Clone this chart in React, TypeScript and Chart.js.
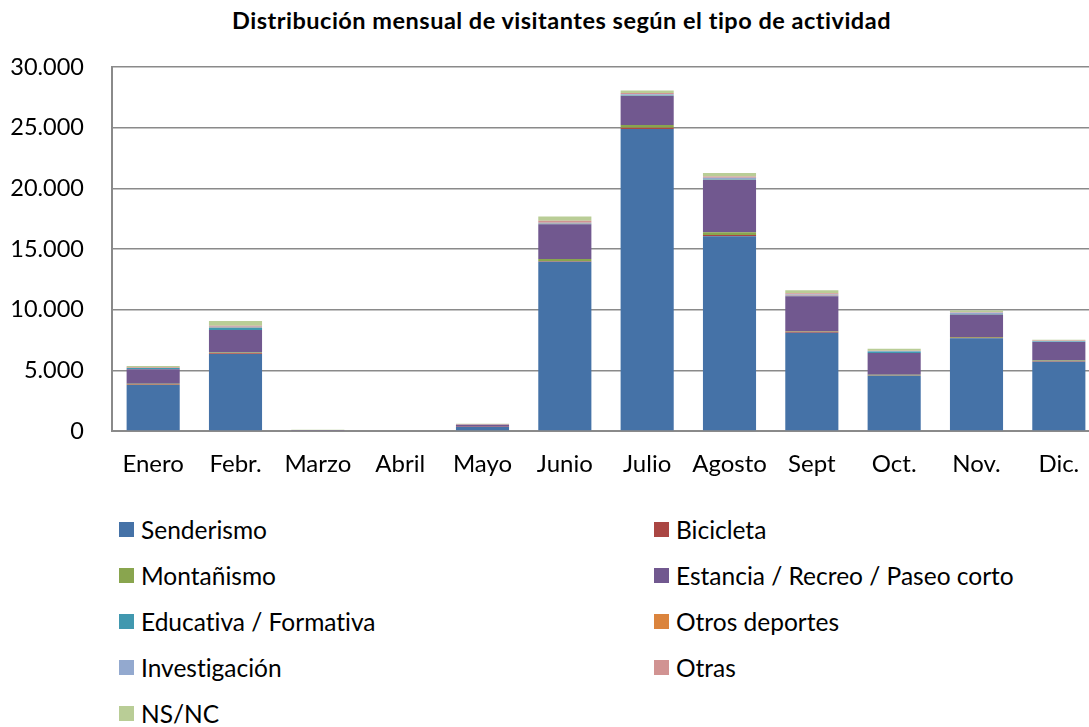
import React, { useEffect, useRef } from "react";
import { Chart, registerables } from "chart.js";

Chart.register(...registerables);

const categories = ["Enero", "Febr.", "Marzo", "Abril", "Mayo", "Junio", "Julio", "Agosto", "Sept", "Oct.", "Nov.", "Dic."];
const senderismo = [3800, 6350, 60, 0, 330, 13950, 24900, 16050, 8100, 4550, 7650, 5700];
const bicicleta = [30, 50, 0, 0, 10, 50, 100, 110, 90, 30, 40, 40];
const montanismo = [60, 80, 0, 0, 10, 180, 220, 230, 30, 50, 60, 70];
const estancia = [1200, 1850, 30, 0, 170, 2850, 2400, 4300, 2880, 1800, 1830, 1530];
const educativa = [100, 180, 0, 0, 0, 60, 40, 40, 30, 120, 50, 30];
const otrosDeportes = [20, 20, 0, 0, 0, 20, 20, 20, 10, 10, 10, 10];
const investigacion = [30, 60, 0, 0, 0, 60, 80, 120, 100, 30, 100, 40];
const otras = [30, 80, 0, 0, 40, 150, 100, 110, 110, 30, 40, 30];
const nsnc = [80, 400, 20, 0, 30, 350, 200, 280, 250, 150, 150, 80];

const seriesNames = [
  "Senderismo",
  "Bicicleta",
  "Montañismo",
  "Estancia / Recreo / Paseo corto",
  "Educativa / Formativa",
  "Otros deportes",
  "Investigación",
  "Otras",
  "NS/NC",
];
const seriesValues = [senderismo, bicicleta, montanismo, estancia, educativa, otrosDeportes, investigacion, otras, nsnc];
const seriesColors = ["#4572A7", "#AA4643", "#89A54E", "#71588F", "#4198AF", "#DB843D", "#93A9CF", "#D19392", "#B9CD96"];

const TITLE = "Distribución mensual de visitantes según el tipo de actividad";
const FONT = "Lato, 'Open Sans', sans-serif";

function fmt(v: number): string {
  return String(v).replace(/\B(?=(\d{3})+(?!\d))/g, ".");
}

export default function App() {
  const ref = useRef<HTMLCanvasElement | null>(null);

  useEffect(() => {
    if (!ref.current) return;
    const chart = new Chart(ref.current, {
      type: "bar",
      data: {
        labels: categories,
        datasets: seriesNames.map((name, i) => ({
          label: name,
          data: seriesValues[i],
          backgroundColor: seriesColors[i],
          borderWidth: 0,
          barPercentage: 0.645,
          categoryPercentage: 1,
        })),
      },
      options: {
        responsive: false,
        animation: false,
        layout: { padding: { top: 67, left: 0, right: 0, bottom: 0 } },
        plugins: {
          legend: { display: false },
          title: { display: false },
          tooltip: { enabled: false },
        },
        scales: {
          x: {
            stacked: true,
            grid: { display: false, drawTicks: false },
            border: { display: true, color: "#8a8a8a", width: 2 },
            ticks: {
              color: "#000",
              font: { family: FONT, size: 24 },
              padding: 19,
              maxRotation: 0,
              autoSkip: false,
            },
            afterFit: (scale: any) => {
              scale.height = 60;
            },
          },
          y: {
            stacked: true,
            min: 0,
            max: 30000,
            grid: { color: "#8a8a8a", lineWidth: 1.5, drawTicks: false },
            border: { display: true, color: "#8a8a8a", width: 2 },
            ticks: {
              stepSize: 5000,
              color: "#000",
              font: { family: FONT, size: 23.5 },
              padding: 28,
              callback: (v: any) => fmt(Number(v)),
            },
            afterFit: (scale: any) => {
              scale.width = 112;
            },
          },
        },
      },
    });
    return () => chart.destroy();
  }, []);

  return (
    <div
      style={{
        position: "absolute",
        left: 0,
        top: 0,
        width: 1089,
        height: 727,
        overflow: "hidden",
        background: "#fff",
        fontFamily: FONT,
        fontVariantLigatures: "none",
      }}
    >
      <div
        style={{
          position: "absolute",
          left: 0,
          top: 5,
          width: 1123,
          textAlign: "center",
          fontWeight: 700,
          fontSize: 23.5,
          letterSpacing: 0.5,
          lineHeight: "30px",
          color: "#000",
          whiteSpace: "nowrap",
        }}
      >
        {TITLE}
      </div>
      <canvas ref={ref} width={1100} height={491} style={{ position: "absolute", left: 0, top: 0 }} />
      {seriesNames.map((name, i) => {
        const col = i % 2;
        const row = Math.floor(i / 2);
        const left = col === 0 ? 119 : 654;
        const top = 529 + row * 46;
        return (
          <div
            key={name}
            style={{
              position: "absolute",
              left,
              top: top - 15,
              height: 30,
              display: "flex",
              alignItems: "center",
              whiteSpace: "nowrap",
              fontSize: 24.5,
              color: "#000",
            }}
          >
            <span
              style={{
                display: "inline-block",
                width: 15,
                height: 15,
                background: seriesColors[i],
                marginRight: 7,
              }}
            />
            <span>{name}</span>
          </div>
        );
      })}
    </div>
  );
}
